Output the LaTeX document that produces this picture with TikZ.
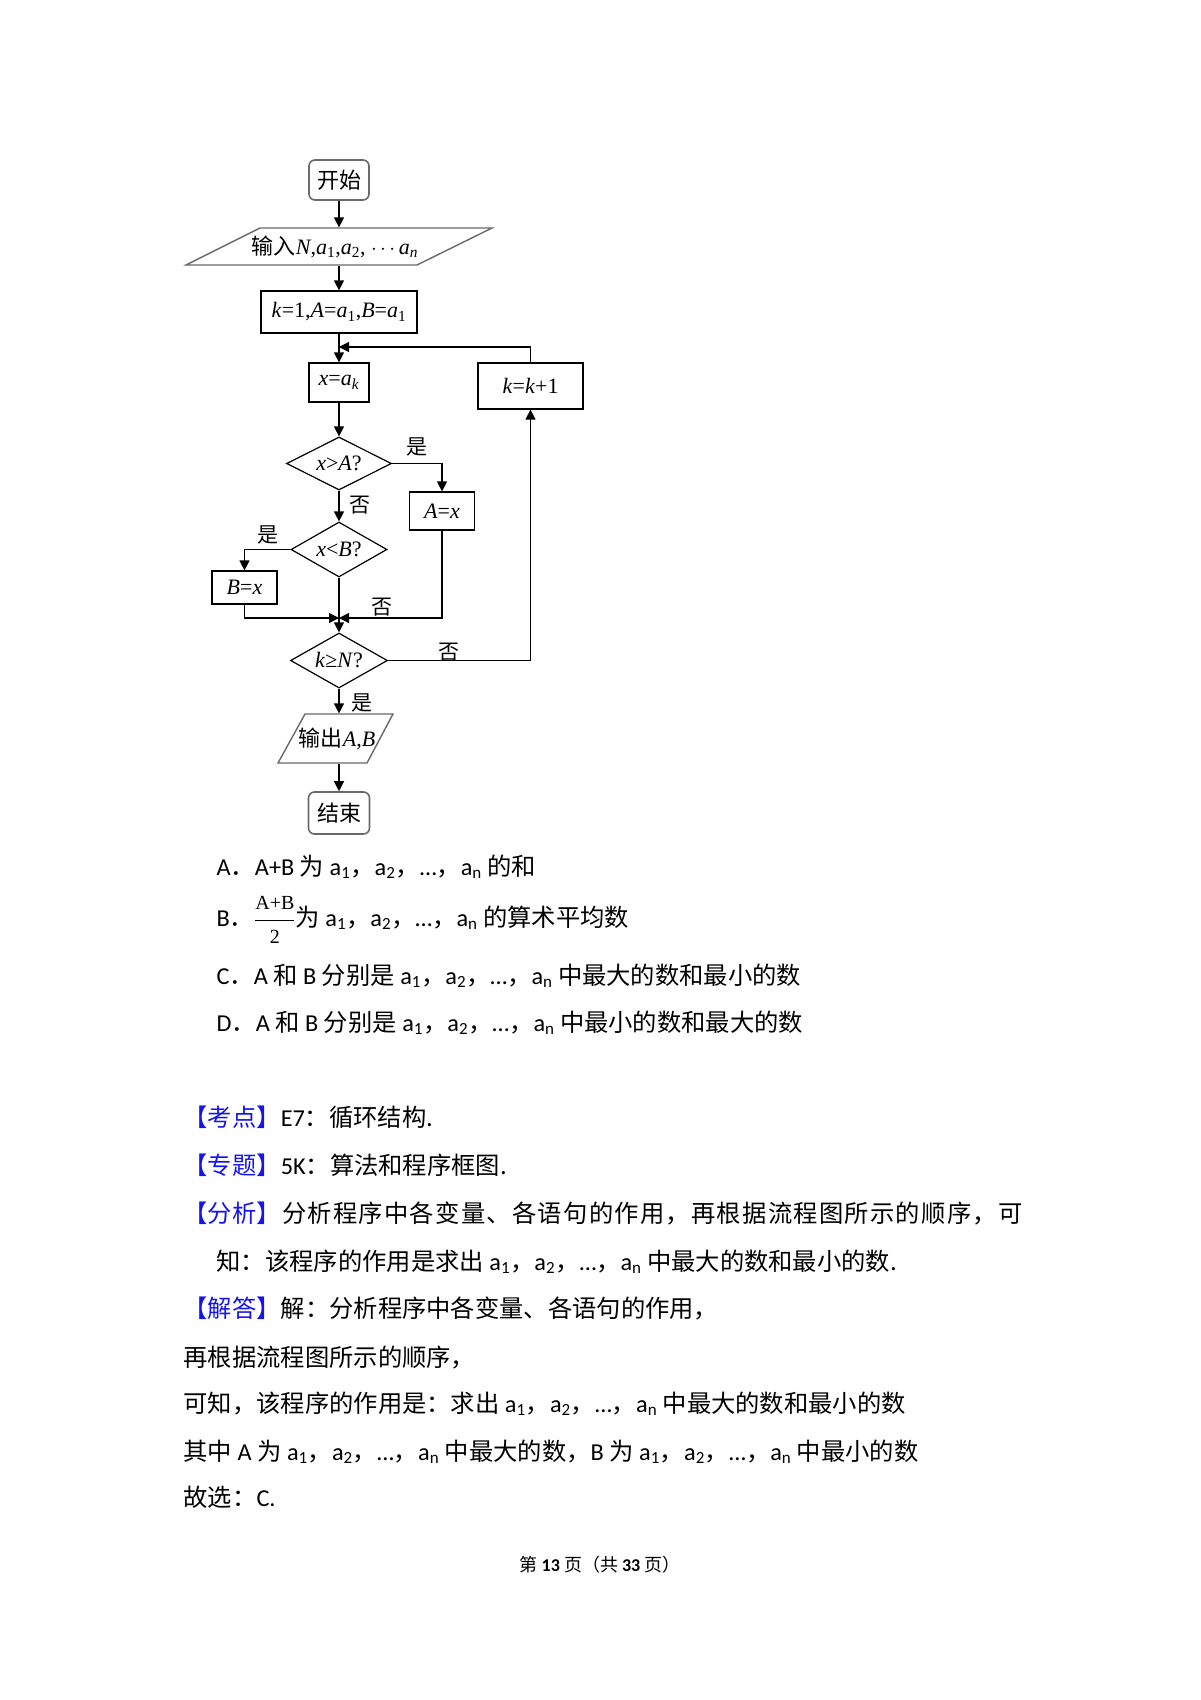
\documentclass[tikz,border=0pt]{standalone}
\usepackage{fontspec}
\setmainfont{Carlito}
\newfontfamily\cjk{Noto Sans CJK SC}
\newfontfamily\tms{Liberation Serif}
\usetikzlibrary{shapes.geometric,arrows.meta}
\definecolor{kblue}{RGB}{20,20,235}
\definecolor{fgray}{RGB}{105,105,105}
\newcommand\zh[1]{{\cjk #1}}
\newcommand\sa[1]{a\textsubscript{#1}}
\newcommand\ia[1]{\textit{a}\textsubscript{#1}}
\newcommand\tag[1]{\textcolor{kblue}{\zh{【#1】}}}
% spread characters evenly: \spreadchars ...\relax
\def\spreadchars#1{\ifx#1\relax\unskip\else#1\hskip0pt plus 1fil\expandafter\spreadchars\fi}
\begin{document}
\begin{tikzpicture}[x=1pt,y=-1pt,line width=1.2pt,
 ff/.style={font=\tms\fontsize{22}{26}\selectfont},
 box/.style={ff,draw,rectangle,inner sep=0pt},
 rbox/.style={ff,draw=fgray,line width=1.6pt,rounded corners=6pt,inner sep=0pt},
 dia/.style={ff,draw,diamond,aspect=2,inner sep=0pt},
 io/.style={ff,inner sep=0pt},
 pg/.style={draw=fgray,line width=1.4pt,line join=miter},
 arr/.style={-{Triangle[length=10pt,width=10pt]}},
 lbl/.style={font=\cjk\fontsize{21}{24}\selectfont,inner sep=0pt},
 txt/.style={anchor=base west,inner sep=0pt,font=\fontsize{24.3}{28}\selectfont},
 foot/.style={anchor=base,inner sep=0pt,font=\fontsize{18}{21}\selectfont},
]
\useasboundingbox[fill=white] (0,0) rectangle (1200,1700);

% ---------- flowchart nodes ----------
\node[rbox,minimum width=60pt,minimum height=40pt] (start) at (339,180) {\zh{开始}};
\node[io,minimum width=150pt,minimum height=37pt] (in) at (335,246.5) {\zh{输入}\textit{N},\ia{1},\ia{2}, $\cdots$\,\ia{\textit{n}}};
\draw[pg] (260,228) -- (492,228) -- (417,265) -- (186,265) -- cycle;
\node[box,minimum width=156pt,minimum height=42pt] (init) at (339,312) {\textit{k}=1,\textit{A}=\ia{1},\textit{B}=\ia{1}};
\node[box,minimum width=60pt,minimum height=39pt] (xa) at (339,382.5) {\textit{x}=\ia{\textit{k}}};
\node[box,minimum width=105pt,minimum height=46pt] (kk) at (530.5,386) {\textit{k}=\textit{k}+1};
\node[dia,minimum width=105pt,minimum height=53pt] (d1) at (339,463.5) {\textit{x}>\textit{A}?};
\node[box,minimum width=65pt,minimum height=38pt] (ax) at (442,511) {\textit{A}=\textit{x}};
\node[dia,minimum width=96pt,minimum height=55pt] (d2) at (339,549.5) {\textit{x}<\textit{B}?};
\node[box,minimum width=65pt,minimum height=33pt] (bx) at (244.5,587.5) {\textit{B}=\textit{x}};
\node[dia,minimum width=97pt,minimum height=55pt] (d3) at (339,660.5) {\textit{k}≥\textit{N}?};
\node[io,minimum width=80pt,minimum height=49pt] (out) at (337,738.5) {\zh{输出}\textit{A},\textit{B}};
\draw[pg] (305,714) -- (393,714) -- (367,763) -- (278,763) -- cycle;
\node[rbox,minimum width=61pt,minimum height=42pt] (end) at (339,813) {\zh{结束}};

\coordinate (j1) at (339,347);
\coordinate (j2) at (339,618);

% ---------- connectors ----------
\draw[arr] (start) -- (start |- in.north);
\draw[arr] (in.south -| start) -- (init);
\draw[arr] (init) -- (xa);
\draw[arr] (xa) -- (d1);
\draw[arr] (d1.east) -| (ax.north);
\draw[arr] (d1) -- (d2);
\draw[arr] (d2.west) -| (bx.north);
\draw[arr] (bx.south) |- (j2);
\draw[arr] (ax.south) |- (j2);
\draw[arr] (d2) -- (d3);
\draw[arr] (d3.east) -| (kk.south);
\draw[arr] (kk.north) |- (j1);
\draw[arr] (d3) -- (d3 |- out.north);
\draw[arr] (out.south -| d3) -- (end);

% ---------- branch labels ----------
\node[lbl] (y1) at (417,447) {是};
\node[lbl] (n1) at (360,505) {否};
\node[lbl] (y2) at (268,535) {是};
\node[lbl] (n2) at (382,607) {否};
\node[lbl] (n3) at (449,652) {否};
\node[lbl] (y3) at (362,703) {是};

% ---------- options ----------
\node[txt] (oa) at (216,875) {A\zh{．}A+B \zh{为} \sa{1}\zh{，}\sa{2}\zh{，}…\zh{，}\sa{n} \zh{的和}};
\node[txt] (ob) at (216,926) {B\zh{．}$\displaystyle\frac{\hbox{\tms\fontsize{20}{20}\selectfont A+B}}{\hbox{\tms\fontsize{20}{20}\selectfont 2}}$\zh{为} \sa{1}\zh{，}\sa{2}\zh{，}…\zh{，}\sa{n} \zh{的算术平均数}};
\node[txt] (oc) at (216,984) {C\zh{．}A \zh{和} B \zh{分别是} \sa{1}\zh{，}\sa{2}\zh{，}…\zh{，}\sa{n} \zh{中最大的数和最小的数}};
\node[txt] (od) at (216,1031) {D\zh{．}A \zh{和} B \zh{分别是} \sa{1}\zh{，}\sa{2}\zh{，}…\zh{，}\sa{n} \zh{中最小的数和最大的数}};

% ---------- analysis ----------
\node[txt] (t1) at (183,1126) {\tag{考点}E7\zh{：循环结构.}};
\node[txt] (t2) at (183,1174) {\tag{专题}5K\zh{：算法和程序框图.}};
\node[txt] (t3) at (183,1222) {\hbox to 839pt{\tag{分析}\hskip0pt plus 1fil\cjk\spreadchars 分析程序中各变量、各语句的作用，再根据流程图所示的顺序，可\relax}};
\node[txt] (t4) at (216,1270) {\zh{知：该程序的作用是求出} \sa{1}\zh{，}\sa{2}\zh{，}…\zh{，}\sa{n} \zh{中最大的数和最小的数.}};
\node[txt] (t5) at (183,1317) {\tag{解答}\zh{解：分析程序中各变量、各语句的作用，}};
\node[txt] (t6) at (183,1366) {\zh{再根据流程图所示的顺序，}};
\node[txt] (t7) at (183,1412) {\zh{可知，该程序的作用是：求出} \sa{1}\zh{，}\sa{2}\zh{，}…\zh{，}\sa{n} \zh{中最大的数和最小的数}};
\node[txt] (t8) at (183,1460) {\zh{其中} A \zh{为} \sa{1}\zh{，}\sa{2}\zh{，}…\zh{，}\sa{n} \zh{中最大的数，}B \zh{为} \sa{1}\zh{，}\sa{2}\zh{，}…\zh{，}\sa{n} \zh{中最小的数}};
\node[txt] (t9) at (183,1506) {\zh{故选：}C.};

% ---------- footer ----------
\node[foot] (ft) at (600,1571) {\zh{第} \textbf{13} \zh{页（共} \textbf{33} \zh{页）}};
\end{tikzpicture}
\end{document}
